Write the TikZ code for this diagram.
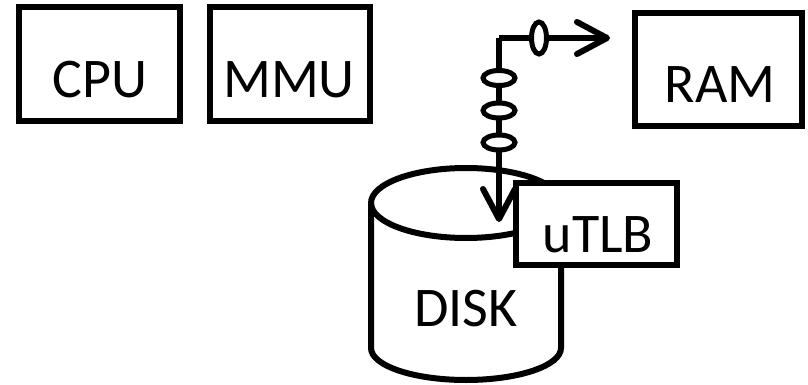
\documentclass[tikz,border=0pt]{standalone}
\usepackage{fontspec}
\setmainfont{Carlito}
\usetikzlibrary{arrows.meta,shapes.geometric}
\tikzset{
 box/.style={draw=black,line width=6pt,inner sep=0pt,outer sep=0pt},
 lab/.style={font=\fontsize{56}{56}\selectfont,inner sep=0pt},
 tok/.style={draw=black,fill=white,ellipse,line width=5pt,inner sep=0pt,outer sep=0pt},
 arrow/.style={draw=black,line width=6pt,-{Straight Barb[length=30pt,width=32pt,line width=6pt,round]}}
}
\begin{document}
\begin{tikzpicture}[x=1pt,y=-1pt]
\useasboundingbox (0,0) rectangle (808,385);
\node[box,minimum width=161,minimum height=114] (cpu) at (99.5,64) {};
\node[lab,anchor=base] (cput) at (100,98) {CPU};
\node[box,minimum width=160,minimum height=114] (mmu) at (290,64) {};
\node[lab,anchor=base] (mmut) at (289,98) {MMU};
\node[box,minimum width=167,minimum height=113] (ram) at (718.5,69.5) {};
\node[lab,anchor=base] (ramt) at (720,103) {RAM};
% disk
\draw[line width=6pt,fill=white] (371,203) .. controls (371,183.7) and (413.5,168) .. (466,168) .. controls (518.5,168) and (561,183.7) .. (561,203) -- (561,348) .. controls (561,365.7) and (518.5,380) .. (466,380) .. controls (413.5,380) and (371,365.7) .. (371,348) -- cycle;
\draw[line width=6pt] (371,203) .. controls (371,222.3) and (413.5,238) .. (466,238) .. controls (518.5,238) and (561,222.3) .. (561,203);
\node[lab,anchor=base] (diskt) at (466,326) {DISK};
\coordinate (corner) at (499,38);
\coordinate (rtip) at (610,38);
\coordinate (dtip) at (499,222);
\draw[arrow] (corner) -- (rtip);
\draw[arrow] (corner) -- (dtip);
\draw[line width=6pt,line cap=rect] (corner) -- +(0,0);
\node[tok,minimum width=15,minimum height=32] (t1) at (539,38) {};
\node[tok,minimum width=32,minimum height=15] (t2) at (499,78) {};
\node[tok,minimum width=32,minimum height=15] (t3) at (499,110.5) {};
\node[tok,minimum width=32,minimum height=15] (t4) at (499,142.5) {};
\node[box,fill=white,minimum width=161,minimum height=82] (utlb) at (596,224) {};
\node[lab,anchor=base] (utlbt) at (598,252) {uTLB};
\end{tikzpicture}
\end{document}
